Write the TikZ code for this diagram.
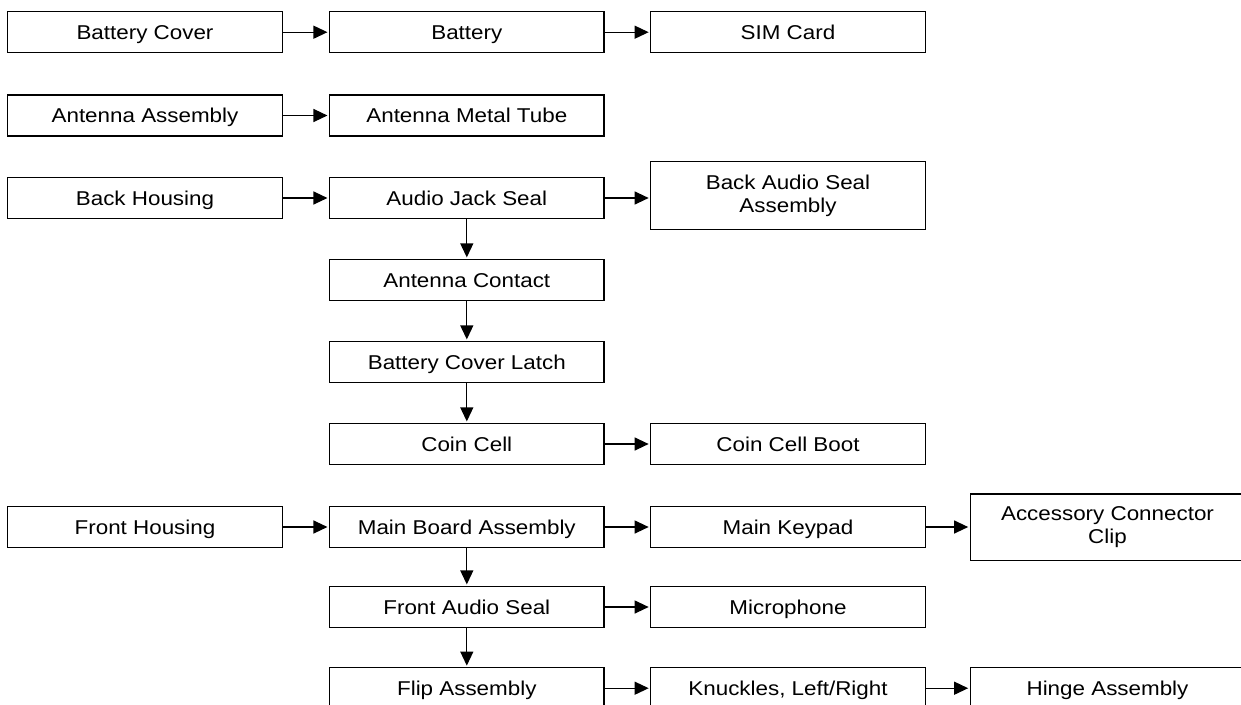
\documentclass[tikz,border=0pt]{standalone}
\usepackage{fontspec}
\setmainfont{Liberation Sans}[FakeStretch=1.12]
\usetikzlibrary{arrows.meta}
\begin{document}
\begin{tikzpicture}[x=1pt,y=-1pt,
  part/.style={draw=black, line width=1.2pt, rectangle, minimum width=274.5pt, minimum height=41pt, inner sep=2pt, text height=14.4pt, text depth=0pt, align=center, font=\fontsize{20pt}{23pt}\selectfont},
  tall/.style={minimum height=68pt, text height={}, text depth={}},
  link/.style={line width=1.2pt, -{Triangle[length=14pt,width=13pt]}, shorten >=1.5pt}]
\useasboundingbox (0,0) rectangle (1241,704);
% columns: 145, 466.8, 788, 1107.5
\node[part] (bc)  at (145,32.2)   {Battery Cover};
\node[part] (bat) at (466.8,32.2) {Battery};
\node[part] (sim) at (788,32.2)   {SIM Card};

\node[part] (aa)  at (145,115.5)   {Antenna Assembly};
\node[part] (amt) at (466.8,115.5) {Antenna Metal Tube};

\node[part] (bh)  at (145,198)   {Back Housing};
\node[part] (ajs) at (466.8,198) {Audio Jack Seal};
\node[part,tall] (bas) at (788,195.8) {Back Audio Seal\\Assembly};

\node[part] (ac)  at (466.8,280) {Antenna Contact};
\node[part] (bcl) at (466.8,362) {Battery Cover Latch};
\node[part] (cc)  at (466.8,444) {Coin Cell};
\node[part] (ccb) at (788,444)   {Coin Cell Boot};

\node[part] (fh)  at (145,527)   {Front Housing};
\node[part] (mba) at (466.8,527) {Main Board Assembly};
\node[part] (mk)  at (788,527)   {Main Keypad};
\node[part,tall,minimum height=66.7pt] (acc) at (1107.5,527.3) {Accessory Connector\\Clip};

\node[part] (fas) at (466.8,607) {Front Audio Seal};
\node[part] (mic) at (788,607)   {Microphone};

\node[part] (fa)  at (466.8,688.2) {Flip Assembly};
\node[part] (kn)  at (788,688.2)   {Knuckles, Left/Right};
\node[part] (ha)  at (1107.5,688.2) {Hinge Assembly};

\draw[link] (bc) -- (bat);
\draw[link] (bat) -- (sim);
\draw[link] (aa) -- (amt);
\draw[link] (bh) -- (ajs);
\draw[link] (ajs.east) -- (ajs.east -| bas.west);
\draw[link] (ajs) -- (ac);
\draw[link] (ac) -- (bcl);
\draw[link] (bcl) -- (cc);
\draw[link] (cc) -- (ccb);
\draw[link] (fh) -- (mba);
\draw[link] (mba) -- (mk);
\draw[link] (mk.east) -- (mk.east -| acc.west);
\draw[link] (mba) -- (fas);
\draw[link] (fas) -- (mic);
\draw[link] (fas) -- (fa);
\draw[link] (fa) -- (kn);
\draw[link] (kn) -- (ha);
\end{tikzpicture}
\end{document}
